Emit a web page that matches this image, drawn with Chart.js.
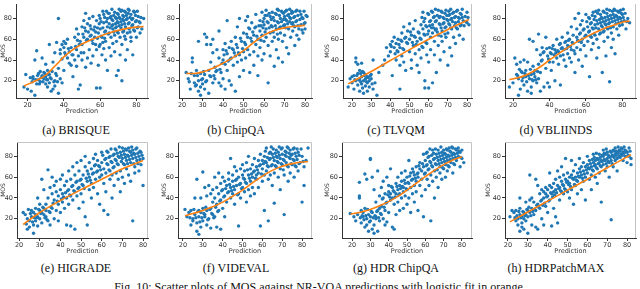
<!DOCTYPE html>
<html>
<head>
<meta charset="utf-8">
<script src="https://cdn.jsdelivr.net/npm/chart.js@4.4.1/dist/chart.umd.min.js"></script>
<style>
  body { margin: 0; width: 640px; height: 289px; overflow: hidden; background: #fff; position: relative; }
  canvas { position: absolute; }
  .cap { position: absolute; font-family: "Liberation Serif", "Times New Roman", serif; font-size: 12px; line-height: 12px; color: #111; white-space: nowrap; transform: translateX(-50%); }
</style>
</head>
<body>
<script>
// tick labels
const yTicks = [20, 40, 60, 80];
const xTicksWide = [20, 40, 60, 80];
const xTicksTen = [20, 30, 40, 50, 60, 70, 80];

// (a) BRISQUE
const brisque = [[18,14],[19,26],[20,12],[22,10],[23,24],[23,22],[24,6],[24,40],[25,49],[25,17],[26,27],[26,21],[27,29],[27,19],[28,25],[28,42],[29,28],[29,22],[30,36],[30,24],[30,17],[31,14],[31,30],[31,21],[32,55],[32,18],[32,26],[33,10],[33,22],[34,12],[34,38],[35,20],[35,47],[35,15],[36,57],[36,25],[37,80],[37,8],[37,32],[38,22],[38,50],[38,46],[39,18],[39,55],[39,41],[40,30],[40,58],[40,52],[41,45],[41,56],[42,42],[42,60],[43,48],[43,37],[44,35],[44,52],[45,45],[45,24],[46,40],[46,62],[47,70],[47,50],[47,34],[48,12],[48,65],[48,44],[49,16],[49,58],[50,72],[50,40],[50,55],[51,78],[51,62],[51,47],[52,68],[52,85],[52,33],[53,75],[53,60],[53,42],[54,80],[54,50],[55,70],[55,64],[55,37],[56,82],[56,56],[56,44],[57,72],[57,62],[58,13],[58,78],[58,50],[59,66],[59,35],[60,13],[60,80],[60,70],[60,55],[61,62],[61,45],[62,76],[62,84],[62,51],[63,68],[63,58],[63,40],[64,72],[64,80],[64,30],[65,66],[65,85],[65,75],[65,52],[66,62],[66,82],[66,44],[67,74],[67,70],[67,78],[67,56],[68,86],[68,64],[68,48],[69,80],[69,72],[69,58],[69,25],[70,76],[70,84],[70,66],[70,30],[71,62],[71,80],[71,45],[72,74],[72,88],[72,20],[72,55],[73,68],[73,82],[73,78],[74,72],[74,86],[74,60],[74,40],[75,80],[75,66],[75,50],[76,88],[76,76],[76,70],[77,84],[77,62],[77,58],[78,80],[78,74],[78,45],[79,86],[79,68],[80,78],[80,62],[81,72],[81,82],[82,66],[82,76],[83,70],[84,80],
  [59.5,75],[59.5,83],[60.5,77],[61.5,87],[61.5,71],[62.5,67],[62.5,81],[63.5,77],[63.5,87],[64.5,65],[64.5,85],[65.5,71],[65.5,81],[66.5,73],[66.5,79],[66.5,89],[67.5,67],[67.5,83],[68.5,75],[68.5,71],[68.5,81],[69.5,67],[69.5,85],[69.5,77],[70.5,73],[70.5,81],[70.5,89],[71.5,71],[71.5,77],[71.5,87],[72.5,67],[72.5,79],[72.5,83],[73.5,75],[73.5,87],[73.5,63],[74.5,79],[74.5,83],[75.5,75],[75.5,85],[75.5,89],[76.5,81],[76.5,67],[77.5,73],[77.5,79],[78.5,87],[78.5,69],[79.5,77],[79.5,83],[80.5,71],[80.5,87],[81.5,77],[82.5,81],[50.5,65],[51.5,71],[52.5,59],[53.5,67],[54.5,63],[54.5,73],[55.5,59],[56.5,69],[57.5,55],[57.5,67],[58.5,61],[58.5,71],[59.5,53],[60.5,63],[61.5,57],[62.5,61],[46.5,53],[47.5,59],[48.5,55],[49.5,47],[44.5,45],[42.5,51],[40.5,47],[25.5,25],[26.5,17],[27.5,23],[28.5,19],[29.5,27],[30.5,21],[31.5,26],[32.5,23],[33.5,29],[34.5,19],[35.5,27],[36.5,19],[24.5,21],[22.5,19],[21.5,23]];
const brisqueFitX = [18, 25, 30, 35, 40, 45, 50, 55, 60, 65, 70, 75, 80, 84];
const brisqueFitY = [15, 20.5, 25.5, 34, 43, 50, 55.5, 59.5, 63, 66, 68.6, 70.5, 71.7, 72.3];

// (b) ChipQA
const chipqa = [[22,28],[23,22],[24,12],[25,42],[25,38],[26,18],[26,25],[27,16],[27,30],[28,20],[28,58],[28,10],[29,14],[29,6],[29,27],[30,22],[30,17],[31,65],[31,26],[31,12],[32,62],[32,20],[32,55],[33,30],[33,8],[34,24],[34,55],[34,38],[35,47],[35,60],[35,18],[36,33],[36,22],[37,30],[37,50],[38,68],[38,18],[38,42],[39,28],[39,15],[40,50],[40,40],[40,22],[41,36],[41,56],[41,12],[42,78],[42,46],[42,30],[43,52],[43,20],[44,42],[44,58],[44,16],[45,35],[45,50],[46,44],[46,62],[46,10],[47,52],[47,38],[47,72],[48,80],[48,45],[48,24],[49,58],[49,40],[50,66],[50,48],[50,30],[51,55],[51,78],[51,42],[52,62],[52,50],[52,82],[53,45],[53,70],[53,28],[54,58],[54,76],[55,48],[55,64],[55,35],[56,72],[56,84],[56,55],[57,60],[57,44],[57,25],[58,78],[58,68],[58,52],[59,86],[59,64],[59,40],[60,74],[60,58],[60,80],[60,46],[61,70],[61,88],[61,62],[62,18],[62,76],[62,54],[63,82],[63,66],[63,44],[64,72],[64,86],[64,58],[65,78],[65,62],[65,34],[66,84],[66,70],[66,50],[67,76],[67,88],[67,60],[67,42],[68,80],[68,66],[68,72],[69,86],[69,58],[69,38],[70,74],[70,82],[70,64],[71,78],[71,88],[71,52],[72,70],[72,84],[72,46],[73,80],[73,62],[74,76],[74,86],[74,68],[75,72],[75,82],[75,54],[76,88],[76,78],[76,64],[77,70],[77,60],[78,84],[78,74],[79,80],[79,66],[80,76],[80,70],[81,82],
  [58.5,73],[59.5,77],[59.5,71],[60.5,83],[60.5,67],[61.5,77],[61.5,83],[62.5,71],[62.5,85],[63.5,73],[63.5,79],[64.5,81],[64.5,67],[65.5,85],[65.5,73],[66.5,77],[66.5,89],[66.5,65],[67.5,83],[67.5,71],[68.5,87],[68.5,77],[69.5,79],[69.5,73],[69.5,85],[70.5,87],[70.5,79],[70.5,71],[71.5,83],[71.5,75],[72.5,77],[72.5,89],[72.5,81],[73.5,75],[73.5,87],[73.5,85],[74.5,81],[74.5,73],[75.5,87],[75.5,77],[76.5,83],[76.5,73],[77.5,87],[77.5,79],[78.5,81],[78.5,69],[79.5,87],[79.5,75],[80.5,83],[55.5,71],[56.5,63],[57.5,73],[58.5,59],[54.5,67],[53.5,61],[52.5,71],[51.5,65],[50.5,57],[49.5,51],[48.5,61],[47.5,47],[46.5,55],[45.5,47],[44.5,51],[43.5,41],[42.5,39],[41.5,49],[40.5,45],[39.5,37],[38.5,31],[36.5,29],[35.5,25],[33.5,25],[31.5,19],[30.5,29],[29.5,21],[27.5,25],[26.5,15],[24.5,27],[23.5,19]];
const chipqaFitX = [22, 26, 30, 35, 40, 45, 50, 55, 60, 65, 70, 75, 80];
const chipqaFitY = [27, 27, 28.5, 32, 37, 42.5, 49, 57, 64, 68.5, 71, 72.5, 73.5];

// (c) TLVQM
const tlvqm = [[18,14],[19,22],[20,24],[20,18],[21,25],[21,12],[22,20],[22,38],[22,42],[23,16],[23,27],[23,36],[24,22],[24,30],[24,10],[25,24],[25,17],[25,37],[26,20],[26,28],[26,8],[27,22],[27,15],[27,26],[28,18],[28,24],[28,10],[29,20],[29,14],[30,22],[30,26],[31,12],[31,40],[32,18],[33,6],[34,28],[36,35],[37,40],[38,52],[39,44],[40,55],[40,48],[41,58],[41,25],[42,52],[42,62],[43,40],[43,56],[44,60],[44,48],[45,12],[45,52],[45,35],[46,58],[46,66],[46,44],[47,72],[47,50],[47,38],[48,62],[48,30],[49,56],[49,68],[50,48],[50,75],[50,60],[51,40],[51,64],[51,32],[52,70],[52,54],[53,46],[53,78],[53,62],[54,58],[54,35],[55,66],[55,50],[55,28],[56,74],[56,60],[56,42],[57,70],[57,86],[57,52],[58,13],[58,20],[58,64],[58,80],[59,56],[59,72],[59,45],[60,13],[60,84],[60,68],[60,38],[61,62],[61,78],[61,50],[62,18],[62,74],[62,86],[62,66],[63,58],[63,82],[63,45],[64,70],[64,78],[64,28],[65,88],[65,64],[65,54],[66,74],[66,82],[66,40],[67,68],[67,86],[67,58],[68,76],[68,80],[68,48],[69,72],[69,88],[69,62],[70,78],[70,66],[70,35],[71,84],[71,74],[71,52],[72,80],[72,70],[72,44],[73,86],[73,62],[74,76],[74,82],[74,56],[75,70],[75,88],[76,80],[76,64],[77,74],[77,84],[78,78],[78,60],[79,82],[80,76],[80,86],[81,74],
  [56.5,81],[57.5,77],[58.5,73],[59.5,85],[59.5,65],[60.5,77],[60.5,73],[61.5,71],[61.5,87],[62.5,81],[62.5,71],[63.5,77],[63.5,69],[63.5,89],[64.5,83],[64.5,67],[65.5,75],[65.5,81],[66.5,87],[66.5,71],[66.5,63],[67.5,81],[67.5,75],[68.5,85],[68.5,71],[68.5,65],[69.5,79],[69.5,83],[70.5,75],[70.5,87],[70.5,83],[71.5,71],[71.5,79],[71.5,89],[72.5,77],[72.5,85],[73.5,73],[73.5,81],[74.5,87],[74.5,71],[75.5,81],[75.5,77],[76.5,85],[76.5,73],[77.5,81],[77.5,89],[78.5,73],[79.5,77],[80.5,81],[50.5,67],[51.5,57],[52.5,63],[53.5,55],[54.5,67],[55.5,61],[56.5,53],[57.5,65],[58.5,57],[48.5,57],[47.5,61],[46.5,51],[45.5,59],[44.5,55],[43.5,49],[42.5,46],[40.5,53],[21.5,21],[22.5,25],[23.5,21],[24.5,27],[25.5,29],[26.5,25],[27.5,19],[28.5,23],[29.5,25],[30.5,17],[25.5,13],[24.5,19]];
const tlvqmFitX = [18, 30, 40, 50, 60, 70, 81];
const tlvqmFitY = [17, 29, 39.5, 50, 60, 69.5, 79];

// (d) VBLIINDS
const vbliinds = [[18,14],[20,18],[21,42],[22,36],[22,26],[23,6],[23,22],[24,12],[24,38],[25,28],[25,20],[26,16],[26,40],[27,24],[27,30],[28,10],[28,38],[29,60],[29,22],[30,26],[30,14],[30,8],[31,58],[31,34],[31,20],[32,30],[32,24],[33,50],[33,18],[34,65],[34,36],[34,22],[35,45],[35,28],[35,10],[36,52],[36,40],[37,14],[37,48],[38,62],[38,32],[39,44],[39,18],[40,38],[40,52],[40,14],[41,46],[41,30],[42,54],[42,38],[43,20],[43,50],[44,42],[44,60],[45,48],[45,36],[46,16],[46,56],[46,44],[47,52],[47,62],[48,40],[48,50],[49,58],[49,34],[50,46],[50,66],[50,54],[51,42],[51,60],[52,72],[52,50],[52,38],[53,56],[53,64],[54,80],[54,46],[54,28],[55,62],[55,70],[55,52],[56,58],[56,85],[56,40],[57,66],[57,74],[57,50],[58,60],[58,78],[58,34],[59,70],[59,54],[60,84],[60,64],[60,44],[61,72],[61,58],[62,80],[62,68],[62,24],[63,76],[63,62],[63,50],[64,86],[64,70],[64,56],[65,74],[65,82],[65,64],[66,78],[66,60],[66,42],[67,88],[67,70],[67,52],[68,76],[68,84],[68,66],[69,72],[69,80],[69,28],[70,86],[70,68],[70,58],[71,78],[71,74],[71,44],[72,82],[72,70],[72,62],[73,88],[73,76],[73,19],[74,80],[74,66],[74,52],[75,84],[75,72],[75,60],[76,78],[76,88],[76,46],[77,82],[77,70],[78,86],[78,76],[78,64],[79,80],[79,88],[80,74],[80,84],[81,78],[82,70],[83,80],[84,76],
  [60.5,77],[61.5,67],[61.5,81],[62.5,75],[62.5,63],[63.5,83],[63.5,71],[64.5,79],[64.5,65],[65.5,87],[65.5,71],[66.5,75],[66.5,85],[67.5,79],[67.5,65],[68.5,81],[68.5,73],[69.5,87],[69.5,77],[69.5,67],[70.5,81],[70.5,75],[71.5,85],[71.5,71],[71.5,89],[72.5,79],[72.5,75],[73.5,83],[73.5,71],[74.5,87],[74.5,77],[75.5,81],[75.5,89],[76.5,75],[76.5,83],[77.5,79],[77.5,87],[78.5,81],[78.5,73],[79.5,85],[79.5,77],[80.5,81],[80.5,89],[81.5,85],[82.5,77],[55.5,59],[56.5,65],[57.5,57],[58.5,69],[59.5,63],[52.5,57],[53.5,49],[51.5,53],[50.5,59],[49.5,51],[48.5,57],[47.5,45],[46.5,51],[45.5,55],[44.5,49],[43.5,47],[42.5,45],[41.5,51],[40.5,47],[39.5,41],[38.5,51],[36.5,47],[35.5,39],[33.5,29],[32.5,21],[31.5,27],[30.5,21],[29.5,31],[28.5,25],[27.5,19],[26.5,27],[25.5,23],[24.5,29],[23.5,31],[22.5,25]];
const vbliindsFitX = [18, 25, 30, 35, 40, 45, 50, 55, 60, 65, 70, 75, 80, 84];
const vbliindsFitY = [21, 24, 28, 33.5, 40, 46, 52, 57.5, 62, 66.5, 70.5, 73.5, 76.5, 77.5];

// (e) HIGRADE
const higrade = [[22,26],[23,24],[24,10],[24,20],[25,12],[25,18],[26,22],[26,28],[27,6],[27,14],[27,26],[28,24],[28,30],[28,18],[29,22],[29,40],[29,13],[30,28],[30,34],[30,20],[31,26],[31,58],[31,16],[32,24],[32,30],[32,48],[33,22],[33,34],[33,28],[34,67],[34,18],[34,40],[35,50],[35,26],[35,14],[36,44],[36,30],[36,60],[37,38],[37,20],[37,52],[38,46],[38,28],[38,56],[39,42],[39,34],[39,18],[40,48],[40,58],[40,26],[41,44],[41,62],[41,36],[42,52],[42,30],[43,40],[43,56],[43,14],[44,48],[44,66],[44,34],[45,58],[45,42],[45,13],[46,52],[46,70],[46,38],[47,62],[47,46],[47,10],[48,56],[48,74],[48,42],[49,50],[49,66],[49,30],[50,58],[50,76],[50,44],[51,62],[51,52],[51,36],[52,70],[52,80],[52,22],[53,56],[53,66],[53,14],[54,60],[54,48],[54,74],[55,68],[55,54],[55,40],[56,78],[56,64],[56,50],[57,72],[57,58],[57,82],[58,66],[58,44],[58,76],[59,60],[59,70],[59,34],[60,74],[60,62],[60,84],[61,68],[61,54],[61,28],[62,78],[62,64],[62,46],[63,72],[63,84],[63,24],[64,66],[64,58],[64,80],[65,74],[65,62],[65,40],[66,82],[66,70],[66,52],[67,76],[67,64],[67,86],[68,72],[68,58],[68,80],[69,84],[69,66],[69,46],[70,78],[70,88],[70,60],[71,72],[71,82],[71,54],[72,86],[72,68],[72,76],[73,80],[73,62],[73,88],[74,74],[74,84],[74,56],[75,78],[75,18],[75,86],[76,70],[76,82],[76,64],[77,76],[77,88],[78,80],[78,66],[79,72],[79,84],[80,52],[80,78],
  [60.5,81],[61.5,77],[62.5,73],[62.5,85],[63.5,79],[63.5,67],[64.5,75],[64.5,87],[65.5,81],[65.5,69],[66.5,77],[66.5,87],[67.5,73],[67.5,83],[68.5,79],[68.5,89],[69.5,75],[69.5,81],[70.5,73],[70.5,85],[71.5,79],[71.5,87],[72.5,81],[72.5,73],[73.5,85],[73.5,77],[74.5,81],[74.5,89],[75.5,73],[75.5,83],[76.5,79],[76.5,87],[77.5,83],[77.5,73],[78.5,85],[78.5,77],[79.5,81],[55.5,63],[56.5,71],[57.5,65],[58.5,71],[59.5,67],[54.5,57],[53.5,63],[52.5,59],[51.5,49],[50.5,53],[49.5,57],[48.5,49],[47.5,55],[46.5,47],[45.5,51],[44.5,43],[43.5,47],[42.5,45],[41.5,41],[40.5,39],[38.5,37],[36.5,35],[35.5,31],[34.5,27],[33.5,19],[32.5,21],[31.5,31],[30.5,25],[29.5,29],[28.5,21],[27.5,21],[26.5,17],[25.5,25],[24.5,29],[23.5,15]];
const higradeFitX = [22, 30, 40, 50, 60, 70, 80];
const higradeFitY = [14.5, 26, 37.5, 48, 58, 68, 76];

// (f) VIDEVAL
const videval = [[21,29],[22,22],[23,26],[24,14],[24,28],[25,20],[25,18],[26,40],[26,24],[27,58],[27,16],[27,8],[28,22],[28,28],[28,5],[29,26],[29,12],[29,40],[30,18],[30,30],[30,65],[31,22],[31,24],[31,50],[32,14],[32,28],[32,42],[33,20],[33,52],[34,30],[34,11],[34,44],[35,24],[35,48],[35,36],[36,60],[36,22],[36,40],[37,50],[37,12],[37,34],[38,64],[38,44],[38,28],[39,54],[39,38],[39,10],[40,48],[40,60],[40,30],[41,42],[41,56],[41,22],[42,52],[42,36],[43,58],[43,46],[43,64],[44,50],[44,78],[44,40],[45,56],[45,44],[45,62],[46,48],[46,70],[46,34],[47,58],[47,52],[47,66],[48,44],[48,60],[48,13],[49,68],[49,54],[49,40],[50,62],[50,50],[50,72],[51,58],[51,46],[51,66],[52,74],[52,54],[52,36],[53,62],[53,48],[53,80],[54,68],[54,56],[54,42],[55,72],[55,60],[55,50],[56,66],[56,78],[56,44],[57,70],[57,58],[57,62],[58,76],[58,64],[58,50],[59,13],[59,72],[59,82],[60,68],[60,56],[60,76],[61,62],[61,80],[61,28],[62,74],[62,88],[62,66],[63,70],[63,18],[63,58],[64,78],[64,84],[64,62],[65,72],[65,52],[65,82],[66,76],[66,64],[66,35],[67,80],[67,70],[67,86],[68,74],[68,60],[68,84],[69,78],[69,68],[69,48],[70,82],[70,72],[70,88],[71,76],[71,62],[71,24],[72,84],[72,74],[72,80],[73,70],[73,88],[73,56],[74,78],[74,64],[74,86],[75,82],[75,72],[76,76],[76,88],[76,60],[77,80],[77,70],[78,84],[78,66],[79,74],[80,80],[80,36],[81,70],[81,52],[82,76],[83,88],
  [60.5,73],[61.5,85],[61.5,75],[62.5,79],[62.5,71],[63.5,83],[63.5,77],[64.5,71],[64.5,89],[65.5,79],[65.5,87],[66.5,71],[66.5,83],[67.5,75],[67.5,79],[68.5,89],[68.5,81],[69.5,73],[69.5,87],[70.5,77],[70.5,67],[71.5,85],[71.5,81],[72.5,71],[72.5,89],[73.5,79],[73.5,83],[74.5,73],[74.5,81],[75.5,87],[75.5,77],[76.5,83],[76.5,71],[77.5,87],[77.5,77],[78.5,81],[78.5,73],[79.5,87],[80.5,75],[55.5,65],[56.5,59],[57.5,67],[58.5,71],[59.5,63],[54.5,63],[53.5,59],[52.5,67],[51.5,55],[50.5,59],[49.5,49],[48.5,53],[47.5,43],[46.5,57],[45.5,51],[44.5,47],[43.5,53],[42.5,45],[41.5,49],[40.5,41],[39.5,47],[38.5,37],[37.5,27],[36.5,31],[35.5,21],[34.5,25],[33.5,29],[32.5,19],[31.5,31],[30.5,25],[29.5,21],[28.5,17],[27.5,27],[26.5,21],[25.5,29],[23.5,21]];
const videvalFitX = [21, 25, 30, 35, 40, 45, 50, 55, 60, 65, 70, 75, 80, 83];
const videvalFitY = [23, 25, 28, 31.5, 36, 41.5, 47.5, 54.5, 61, 66.5, 70.5, 73, 74.5, 75];

// (g) HDR ChipQA
const hdrChipqa = [[19,25],[21,22],[22,18],[23,24],[24,40],[24,55],[24,42],[25,28],[25,16],[26,22],[26,26],[27,63],[27,12],[27,30],[28,20],[28,14],[28,58],[29,24],[29,8],[30,78],[30,77],[30,18],[30,22],[31,10],[31,60],[31,26],[32,48],[32,14],[32,6],[33,36],[33,22],[33,20],[34,66],[34,28],[34,8],[35,18],[35,30],[35,42],[36,50],[36,24],[36,32],[37,56],[37,20],[37,40],[38,44],[38,28],[38,14],[39,60],[39,36],[39,17],[40,46],[40,26],[40,52],[41,44],[41,68],[41,38],[42,50],[42,12],[42,40],[43,46],[43,34],[43,10],[44,54],[44,44],[44,24],[45,48],[45,60],[45,36],[46,52],[46,44],[46,28],[47,56],[47,40],[47,64],[48,50],[48,46],[48,30],[49,54],[49,42],[49,66],[50,60],[50,48],[50,34],[51,76],[51,54],[51,40],[52,64],[52,50],[52,26],[53,58],[53,44],[53,68],[54,62],[54,52],[54,36],[55,56],[55,70],[55,46],[56,64],[56,60],[56,28],[57,74],[57,52],[57,68],[58,66],[58,58],[58,42],[59,70],[59,82],[59,22],[60,64],[60,76],[60,48],[61,72],[61,58],[61,84],[62,68],[62,80],[62,52],[63,74],[63,62],[63,18],[64,86],[64,70],[64,56],[65,78],[65,66],[65,40],[66,82],[66,72],[66,60],[67,76],[67,86],[67,50],[68,80],[68,70],[68,64],[69,84],[69,74],[69,58],[70,78],[70,86],[70,68],[71,82],[71,72],[71,60],[72,86],[72,76],[72,66],[73,80],[73,88],[73,70],[74,84],[74,74],[75,78],[75,88],[75,64],[76,82],[76,72],[77,86],[77,76],[78,80],[78,88],[79,84],[79,70],[80,78],[80,86],[81,74],
  [58.5,73],[59.5,63],[60.5,71],[60.5,83],[61.5,67],[61.5,79],[62.5,75],[62.5,87],[63.5,81],[63.5,71],[64.5,77],[64.5,83],[65.5,73],[65.5,87],[66.5,79],[66.5,67],[67.5,83],[67.5,73],[68.5,89],[68.5,77],[69.5,81],[69.5,69],[70.5,83],[70.5,75],[71.5,87],[71.5,79],[72.5,81],[72.5,71],[73.5,85],[73.5,77],[74.5,89],[74.5,81],[75.5,83],[75.5,73],[76.5,87],[76.5,79],[77.5,83],[78.5,85],[79.5,79],[56.5,71],[55.5,63],[54.5,59],[53.5,65],[52.5,57],[51.5,61],[50.5,55],[49.5,49],[48.5,57],[47.5,51],[46.5,49],[45.5,43],[44.5,51],[43.5,41],[42.5,47],[41.5,51],[40.5,41],[39.5,43],[38.5,35],[37.5,31],[36.5,39],[35.5,25],[34.5,21],[33.5,27],[32.5,23],[31.5,21],[30.5,27],[29.5,17],[28.5,29],[27.5,23],[26.5,19],[25.5,23],[24.5,21]];
const hdrChipqaFitX = [19, 25, 30, 35, 40, 45, 50, 55, 60, 65, 70, 75, 80];
const hdrChipqaFitY = [24.5, 26.5, 29, 32.5, 36.5, 41.5, 47.5, 54, 60.5, 66.5, 72, 76.5, 79.5];

// (h) HDRPatchMAX
const patchmax = [[21,22],[22,28],[23,26],[24,18],[24,28],[25,14],[25,20],[26,40],[26,8],[26,30],[26,24],[27,22],[27,16],[27,12],[28,20],[28,26],[28,10],[29,24],[29,18],[29,36],[30,28],[30,22],[30,6],[31,26],[31,62],[31,38],[32,14],[32,30],[32,40],[33,36],[33,24],[34,28],[34,58],[34,12],[35,52],[35,34],[35,10],[36,44],[36,30],[37,38],[37,48],[37,20],[38,46],[38,40],[38,14],[39,44],[39,50],[39,32],[40,48],[40,42],[40,26],[41,38],[41,52],[41,64],[42,50],[42,44],[42,13],[43,54],[43,46],[43,30],[44,48],[44,58],[44,22],[45,52],[45,66],[45,16],[46,50],[46,60],[46,38],[47,56],[47,46],[47,70],[48,52],[48,62],[48,44],[49,58],[49,78],[49,48],[50,56],[50,46],[50,64],[51,54],[51,60],[51,40],[52,62],[52,48],[52,76],[53,58],[53,66],[53,34],[54,60],[54,52],[54,72],[55,64],[55,56],[55,44],[56,68],[56,60],[56,78],[57,62],[57,70],[57,48],[58,66],[58,74],[58,56],[59,70],[59,60],[59,38],[60,72],[60,64],[60,80],[61,68],[61,58],[61,76],[62,70],[62,62],[62,48],[63,74],[63,66],[63,82],[64,72],[64,60],[64,76],[65,78],[65,68],[65,54],[66,74],[66,82],[66,64],[67,76],[67,70],[67,36],[68,80],[68,72],[68,86],[69,76],[69,66],[69,82],[70,78],[70,84],[70,70],[71,80],[71,74],[71,60],[72,84],[72,76],[72,19],[73,80],[73,86],[73,70],[74,82],[74,76],[74,88],[75,84],[75,78],[75,66],[76,86],[76,80],[77,82],[77,88],[78,84],[78,76],[79,86],[79,80],[80,84],[80,74],[81,88],[81,80],[82,78],[82,72],
  [60.5,69],[61.5,73],[62.5,77],[62.5,67],[63.5,71],[63.5,79],[64.5,69],[64.5,83],[65.5,73],[65.5,77],[66.5,71],[66.5,79],[67.5,81],[67.5,75],[68.5,77],[68.5,83],[69.5,73],[69.5,87],[70.5,81],[70.5,75],[71.5,85],[71.5,79],[72.5,81],[72.5,73],[73.5,85],[73.5,79],[74.5,81],[74.5,85],[75.5,83],[75.5,89],[76.5,79],[76.5,85],[77.5,81],[77.5,87],[78.5,83],[78.5,89],[79.5,85],[80.5,81],[81.5,85],[55.5,61],[56.5,65],[57.5,59],[58.5,63],[59.5,67],[54.5,57],[53.5,53],[52.5,59],[51.5,51],[50.5,53],[49.5,55],[48.5,49],[47.5,53],[46.5,47],[45.5,49],[44.5,45],[43.5,43],[42.5,41],[41.5,45],[40.5,37],[39.5,41],[38.5,35],[37.5,33],[36.5,37],[35.5,31],[34.5,33],[33.5,29],[32.5,27],[31.5,23],[30.5,31],[29.5,29],[28.5,23],[27.5,27],[26.5,21],[25.5,27],[24.5,23],[23.5,21]];
const patchmaxFitX = [21, 30, 40, 50, 60, 70, 82];
const patchmaxFitY = [17, 26.5, 37, 47.5, 58, 69, 81.5];

const captions = ['(a) BRISQUE', '(b) ChipQA', '(c) TLVQM', '(d) VBLIINDS', '(e) HIGRADE', '(f) VIDEVAL', '(g) HDR ChipQA', '(h) HDRPatchMAX'];

// layout of each subplot (page pixels for the plot box, axis limits)
const panels = [
  { pts: brisque, fx: brisqueFitX, fy: brisqueFitY, xt: xTicksWide, left: 16, right: 148, xMin: 13.6, xMax: 86.4, mosPad: 0 },
  { pts: chipqa, fx: chipqaFitX, fy: chipqaFitY, xt: xTicksTen, left: 179, right: 312, xMin: 18.5, xMax: 83.4, mosPad: 1 },
  { pts: tlvqm, fx: tlvqmFitX, fy: tlvqmFitY, xt: xTicksTen, left: 343, right: 472, xMin: 15.3, xMax: 82.6, mosPad: 4 },
  { pts: vbliinds, fx: vbliindsFitX, fy: vbliindsFitY, xt: xTicksWide, left: 505, right: 637, xMin: 15.6, xMax: 87.5, mosPad: 1 },
  { pts: higrade, fx: higradeFitX, fy: higradeFitY, xt: xTicksTen, left: 17, right: 148, xMin: 19, xMax: 82.4, mosPad: 0 },
  { pts: videval, fx: videvalFitX, fy: videvalFitY, xt: xTicksTen, left: 178, right: 312, xMin: 17.5, xMax: 85, mosPad: 1 },
  { pts: hdrChipqa, fx: hdrChipqaFitX, fy: hdrChipqaFitY, xt: xTicksTen, left: 342, right: 472, xMin: 14.5, xMax: 85.5, mosPad: 4 },
  { pts: patchmax, fx: patchmaxFitX, fy: patchmaxFitY, xt: xTicksTen, left: 505, right: 637, xMin: 18.5, xMax: 84.5, mosPad: 5 }
];

const tickFont = { family: 'DejaVu Sans', size: 6.5 };
const inkColor = '#333';

// light grey top/right edges of the plot box
const frame = {
  id: 'frame',
  beforeDatasetsDraw(chart) {
    const { ctx, chartArea: a } = chart;
    ctx.save();
    ctx.strokeStyle = '#c4c4c4';
    ctx.lineWidth = 1;
    ctx.beginPath();
    if (chart.canvas.dataset.row === '1') {
      ctx.moveTo(a.left, a.top + 0.5);
      ctx.lineTo(a.right - 0.5, a.top + 0.5);
    } else {
      ctx.moveTo(a.right - 0.5, a.top);
    }
    ctx.lineTo(a.right - 0.5, a.bottom);
    ctx.stroke();
    ctx.restore();
  }
};

panels.forEach((p, i) => {
  const row = i < 4 ? 0 : 1;
  const col0 = (i % 4) * 160;
  const top = row === 0 ? 0 : 138;
  const plotH = row === 0 ? 98 : 100;
  const xAxisH = 19;

  const canvas = document.createElement('canvas');
  canvas.width = 160;
  canvas.height = plotH + xAxisH;
  canvas.style.left = col0 + 'px';
  canvas.style.top = top + 'px';
  canvas.dataset.row = row;
  document.body.appendChild(canvas);

  const yMin = row === 0 ? 3.4 : 1.5;
  const yMax = row === 0 ? 94 : 93.8;

  new Chart(canvas, {
    type: 'scatter',
    data: {
      datasets: [
        {
          type: 'line',
          data: p.fx.map((x, k) => ({ x: x, y: p.fy[k] })),
          borderColor: '#ff7f0e',
          borderWidth: 1.6,
          pointRadius: 0,
          cubicInterpolationMode: 'monotone',
          fill: false,
          order: 0
        },
        {
          data: p.pts.map(d => ({ x: d[0], y: d[1] })),
          backgroundColor: '#1f77b4',
          borderWidth: 0,
          pointRadius: 1.7,
          order: 1
        }
      ]
    },
    options: {
      responsive: false,
      animation: false,
      events: [],
      layout: { padding: { left: 0, top: 0, bottom: 0, right: col0 + 160 - p.right } },
      plugins: { legend: { display: false }, tooltip: { enabled: false } },
      scales: {
        x: {
          type: 'linear',
          min: p.xMin,
          max: p.xMax,
          afterBuildTicks: s => { s.ticks = p.xt.map(v => ({ value: v })); },
          afterFit: s => { s.height = xAxisH; s.paddingLeft = 0; s.paddingRight = 0; },
          grid: { drawOnChartArea: false, tickLength: 3, color: inkColor },
          border: { color: inkColor },
          ticks: { font: tickFont, color: inkColor, padding: 0, maxRotation: 0, autoSkip: false },
          title: { display: true, text: 'Prediction', font: tickFont, color: inkColor, padding: { top: 0, bottom: 2 } }
        },
        y: {
          min: yMin,
          max: yMax,
          afterBuildTicks: s => { s.ticks = yTicks.map(v => ({ value: v })); },
          afterFit: s => { s.width = p.left - col0; s.paddingTop = 0; s.paddingBottom = 0; },
          grid: { drawOnChartArea: false, tickLength: 3, color: inkColor },
          border: { color: inkColor },
          ticks: { font: tickFont, color: inkColor, padding: 1, autoSkip: false },
          title: { display: true, text: 'MOS', font: { family: 'DejaVu Sans', size: 6 }, color: inkColor, padding: { top: p.mosPad, bottom: 0 } }
        }
      }
    },
    plugins: [frame]
  });

  const cap = document.createElement('div');
  cap.className = 'cap';
  cap.textContent = captions[i];
  cap.style.left = (col0 + 76) + 'px';
  cap.style.top = (row === 0 ? 123.5 : 261.5) + 'px';
  document.body.appendChild(cap);
});

const fig = document.createElement('div');
fig.className = 'cap';
fig.textContent = 'Fig. 10: Scatter plots of MOS against NR-VQA predictions with logistic fit in orange.';
fig.style.left = '320px';
fig.style.top = '280.5px';
document.body.appendChild(fig);
</script>
</body>
</html>
